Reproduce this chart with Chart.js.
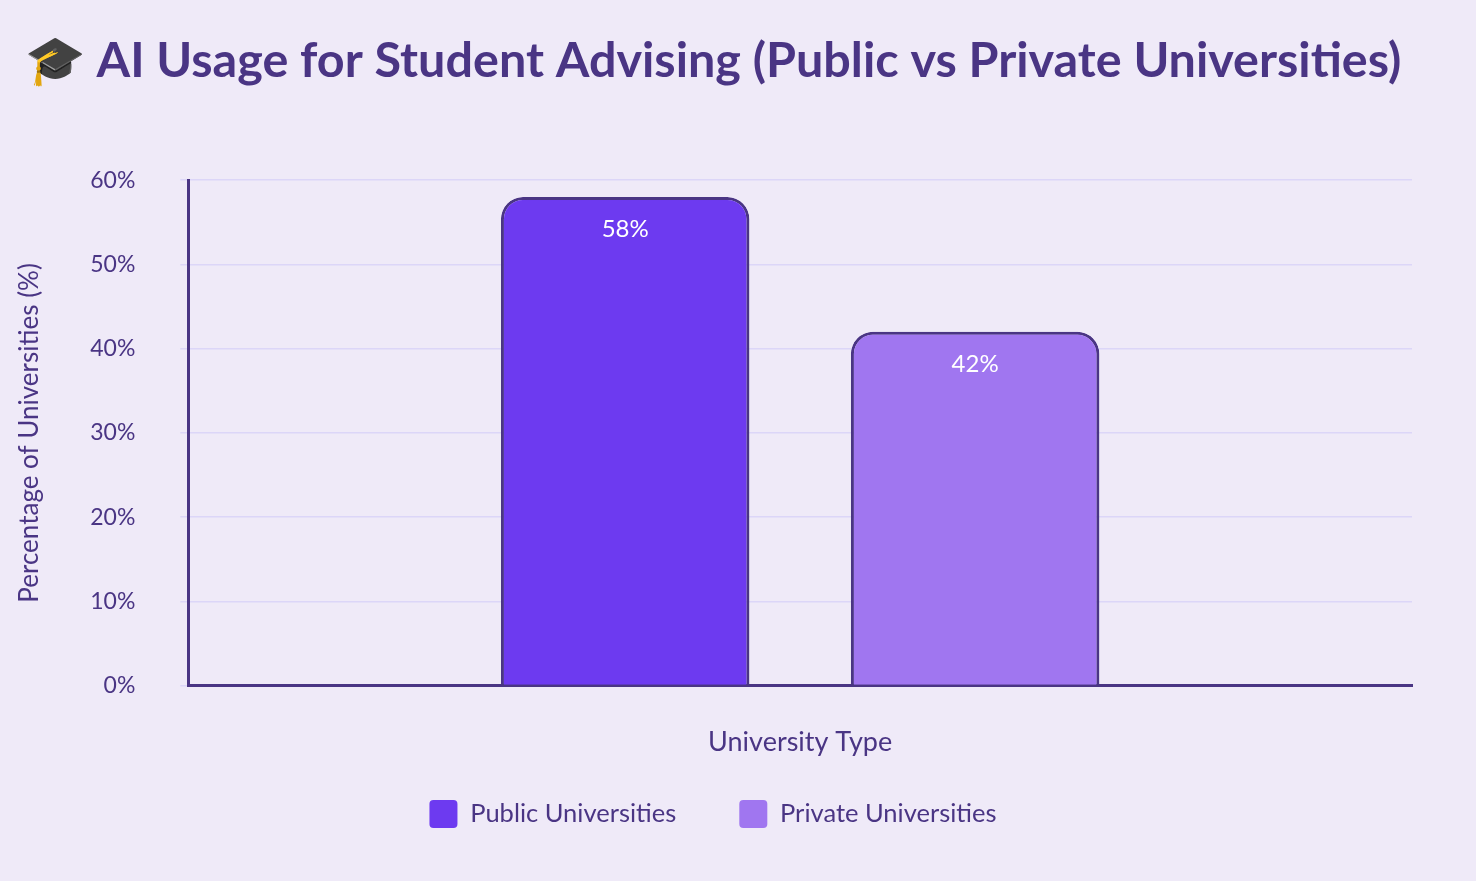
<!DOCTYPE html>
<html><head><meta charset="utf-8">
<script src="https://cdn.jsdelivr.net/npm/chart.js@4"></script>
<style>
html,body{margin:0;padding:0;background:#efeaf8;}
#wrap{width:1476px;height:881px;position:relative;}
</style></head>
<body><div id="wrap"><canvas id="c" width="1476" height="881"></canvas></div>
<script>
const categories = ["University Type"];
const seriesNames = ["Public Universities", "Private Universities"];
const publicValues = [58];
const privateValues = [42];
const yTicks = [0, 10, 20, 30, 40, 50, 60];

const labelPlugin = {
  id: 'valLabels',
  afterDatasetsDraw(chart) {
    const ctx = chart.ctx;
    ctx.save();
    ctx.fillStyle = '#ffffff';
    ctx.font = '24px Lato, "Open Sans", sans-serif';
    ctx.textAlign = 'center';
    ctx.textBaseline = 'top';
    chart.data.datasets.forEach((ds, i) => {
      chart.getDatasetMeta(i).data.forEach((bar, j) => {
        ctx.fillText(ds.data[j] + '%', bar.x, bar.y + 20);
      });
    });
    ctx.restore();
  }
};

new Chart(document.getElementById('c'), {
  type: 'bar',
  data: {
    labels: categories,
    datasets: [
      { label: seriesNames[0], data: publicValues, backgroundColor: '#6d3af0', borderColor: '#4a3584', borderWidth: 3, borderRadius: {topLeft: 22, topRight: 22}, borderSkipped: 'bottom' },
      { label: seriesNames[1], data: privateValues, backgroundColor: '#a076f0', borderColor: '#4a3584', borderWidth: 3, borderRadius: {topLeft: 22, topRight: 22}, borderSkipped: 'bottom' }
    ]
  },
  options: {
    responsive: false, animation: false,
    categoryPercentage: 0.572, barPercentage: 0.71,
    layout: { padding: { left: 14, right: 64, top: 10, bottom: 43 } },
    plugins: {
      title: { display: true, text: '🎓 AI Usage for Student Advising (Public vs Private Universities)', color: '#4a3584',
        font: { size: 48.5, weight: 'bold', family: 'Lato, "Open Sans", sans-serif' }, padding: { top: 22, bottom: 90 } },
      legend: { position: 'bottom', labels: { color: '#4a3584', font: { size: 25.5, family: 'Lato, sans-serif' }, boxWidth: 28, boxHeight: 28, useBorderRadius: true, borderRadius: 4, padding: 12,
        generateLabels(chart) {
          const items = Chart.defaults.plugins.legend.labels.generateLabels(chart);
          items.forEach((it, i) => { it.lineWidth = 0; it.strokeStyle = 'rgba(0,0,0,0)'; if (i === 0) it.text += '\u2003\u2003\u2002'; });
          return items;
        } } },
      tooltip: { enabled: false }
    },
    scales: {
      x: {
        title: { display: true, text: 'University Type', color: '#4a3584', font: { size: 27, family: 'Lato, sans-serif' }, padding: { top: 32, bottom: 30 } },
        ticks: { display: false },
        grid: { display: false },
        border: { color: '#4a3584', width: 3 }
      },
      y: {
        min: 0, max: 60,
        afterBuildTicks(axis) { axis.ticks = yTicks.map(v => ({ value: v })); },
        title: { display: true, text: 'Percentage of Universities (%)', color: '#4a3584', font: { size: 26, family: 'Lato, sans-serif' }, padding: { top: 0, bottom: 0 } },
        ticks: { color: '#4a3584', font: { size: 23, family: 'Lato, sans-serif' }, padding: 45, callback: v => v + '%' },
        grid: { color: '#dcd6f8', lineWidth: 1.5 },
        border: { color: '#4a3584', width: 3 }
      }
    }
  },
  plugins: [labelPlugin]
});
</script></body></html>
